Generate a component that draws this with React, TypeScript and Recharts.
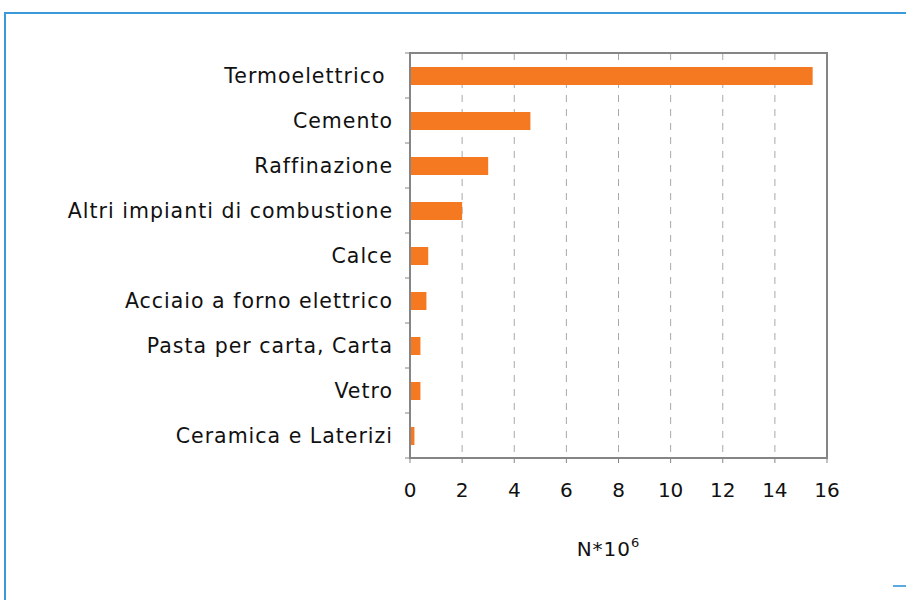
import React from 'react';
import { BarChart, Bar, XAxis, YAxis, CartesianGrid, Label, ReferenceArea } from 'recharts';

const categories = [
  'Termoelettrico ',
  'Cemento',
  'Raffinazione',
  'Altri impianti di combustione',
  'Calce',
  'Acciaio a forno elettrico',
  'Pasta per carta, Carta',
  'Vetro',
  'Ceramica e Laterizi',
];
const values = [15.45, 4.62, 3.0, 2.0, 0.7, 0.63, 0.4, 0.4, 0.17];
const xTicks = [0, 2, 4, 6, 8, 10, 12, 14, 16];

const data = categories.map((name, i) => ({ name, value: values[i] }));

const W = 906;
const H = 600;
const M = { top: 53, right: 79, bottom: 82, left: 0 };
const X_AXIS_H = 60;
const PLOT_H = H - M.top - M.bottom - X_AXIS_H;
const BAND = PLOT_H / categories.length;
const FONT = 'Verdana, "DejaVu Sans", sans-serif';
const AXIS = '#858585';

function CategoryTick(props: any) {
  const { x, y, payload, index } = props;
  const last = index === categories.length - 1;
  const lx = x + 17; // axis line x
  return (
    <g>
      <line x1={lx - 5} x2={lx} y1={y - BAND / 2} y2={y - BAND / 2} stroke={AXIS} strokeWidth={1} />
      {last && <line x1={lx - 5} x2={lx} y1={y + BAND / 2} y2={y + BAND / 2} stroke={AXIS} strokeWidth={1} />}
      <text x={x} y={y} dy="0.36em" textAnchor="end" fontSize={20.5} letterSpacing={1} fill="#111" fontFamily={FONT} style={{ whiteSpace: 'pre' }}>
        {payload.value}
      </text>
    </g>
  );
}

function UnitLabel(props: any) {
  const { viewBox } = props;
  const cx = viewBox.x + viewBox.width / 2 - 10;
  return (
    <text x={cx} y={556} textAnchor="middle" fontSize={20} letterSpacing={1} fill="#111" fontFamily={FONT}>
      N*10<tspan dy={-9} fontSize={13}>6</tspan>
    </text>
  );
}

export default function App() {
  return (
    <div style={{ position: 'absolute', left: 0, top: 0, width: W, height: H, background: '#fff', overflow: 'hidden' }}>
      <div style={{ position: 'absolute', left: 5, top: 12, right: 0, height: 2, background: '#3a9ad9' }} />
      <div style={{ position: 'absolute', left: 4, top: 12, bottom: 0, width: 2, background: '#3a9ad9' }} />
      <div style={{ position: 'absolute', left: 893, top: 585, width: 13, height: 2, background: '#5aa9e0' }} />
      <BarChart width={W} height={H} data={data} layout="vertical" margin={M}>
        <CartesianGrid horizontal={false} stroke="#a8a8a8" strokeDasharray="7 7" />
        <XAxis
          type="number"
          domain={[0, 16]}
          ticks={xTicks}
          interval={0}
          height={X_AXIS_H}
          axisLine={{ stroke: AXIS, strokeWidth: 2 }}
          tickLine={{ stroke: AXIS }}
          tickSize={5}
          tickMargin={20}
          tick={{ fontSize: 20, fill: '#111', fontFamily: FONT }}
        >
          <Label content={<UnitLabel />} />
        </XAxis>
        <YAxis
          type="category"
          dataKey="name"
          width={410}
          interval={0}
          axisLine={{ stroke: AXIS, strokeWidth: 2 }}
          tickLine={false}
          tickSize={0}
          tickMargin={17}
          tick={<CategoryTick />}
        />
        <Bar dataKey="value" fill="#f47920" barSize={18} isAnimationActive={false} />
        <ReferenceArea x1={0} x2={16} fill="none" fillOpacity={0} stroke={AXIS} strokeWidth={2} ifOverflow="visible" />
      </BarChart>
    </div>
  );
}
